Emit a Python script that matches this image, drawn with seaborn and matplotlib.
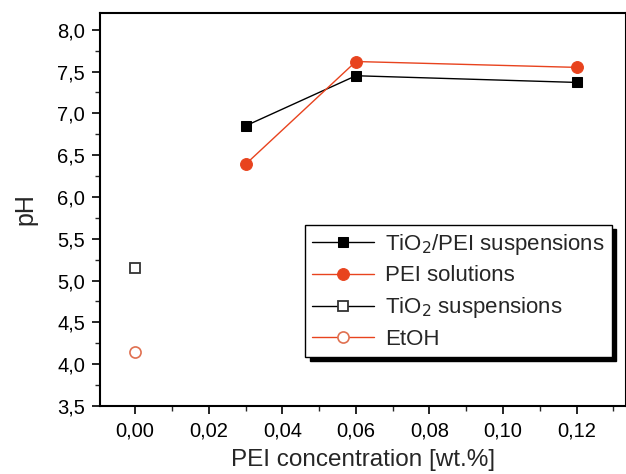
import matplotlib
matplotlib.use("Agg")
import matplotlib.pyplot as plt
import seaborn as sns
from matplotlib.ticker import MultipleLocator, FuncFormatter

# Data
conc = [0.03, 0.06, 0.12]
ph_tio2_pei = [6.85, 7.45, 7.37]
ph_pei = [6.39, 7.62, 7.55]
conc_zero = [0.0]
ph_tio2 = [5.15]
ph_etoh = [4.15]

red = "#e8431e"

sns.set_style("ticks")
plt.rcParams["font.family"] = ["Liberation Sans", "DejaVu Sans"]

fig = plt.figure(figsize=(6.26, 4.74), dpi=100)
ax = fig.add_axes([0.16, 0.1435, 0.84, 0.829])

sns.lineplot(x=conc, y=ph_tio2_pei, ax=ax, color="black", lw=1.0,
             marker="s", markersize=7.5, markeredgecolor="black",
             label="TiO$_2$/PEI suspensions")
sns.lineplot(x=conc, y=ph_pei, ax=ax, color=red, lw=1.0,
             marker="o", markersize=8.5, markeredgecolor=red,
             label="PEI solutions")
sns.lineplot(x=conc_zero, y=ph_tio2, ax=ax, color="black", lw=1.0,
             marker="s", markersize=7, markerfacecolor="white",
             markeredgecolor="#333333", markeredgewidth=1.3,
             label="TiO$_2$ suspensions")
sns.lineplot(x=conc_zero, y=ph_etoh, ax=ax, color=red, lw=1.0,
             marker="o", markersize=8, markerfacecolor="white",
             markeredgecolor="#e07050", markeredgewidth=1.2,
             label="EtOH")

ax.set_xlim(-0.0095, 0.1334)
ax.set_ylim(3.5, 8.2)
ax.xaxis.set_major_locator(MultipleLocator(0.02))
ax.xaxis.set_minor_locator(MultipleLocator(0.01))
ax.yaxis.set_major_locator(MultipleLocator(0.5))
ax.yaxis.set_minor_locator(MultipleLocator(0.25))
ax.xaxis.set_major_formatter(FuncFormatter(lambda v, p: f"{v:.2f}".replace(".", ",").replace("-", "")))
ax.yaxis.set_major_formatter(FuncFormatter(lambda v, p: f"{v:.1f}".replace(".", ",")))
ax.tick_params(which="major", direction="out", length=6, width=1.2, labelsize=14.5,
               colors="black", pad=5)
ax.tick_params(which="minor", direction="out", length=3.5, width=1.0)
for s in ax.spines.values():
    s.set_linewidth(1.5)
    s.set_color("black")

ax.set_xlabel("PEI concentration [wt.%]", fontsize=17.5, labelpad=6)
ax.set_ylabel("pH", fontsize=18, labelpad=14)

leg = ax.legend(loc="lower right", bbox_to_anchor=(0.973, 0.125), fontsize=16,
                frameon=True, fancybox=False, edgecolor="black",
                shadow={"color": "black", "alpha": 1.0, "ox": 3, "oy": -3},
                handlelength=2.8, borderpad=0.3, labelspacing=0.4,
                handletextpad=0.5, borderaxespad=0)
leg.get_frame().set_linewidth(1.0)

fig.savefig("out.png", dpi=100)
